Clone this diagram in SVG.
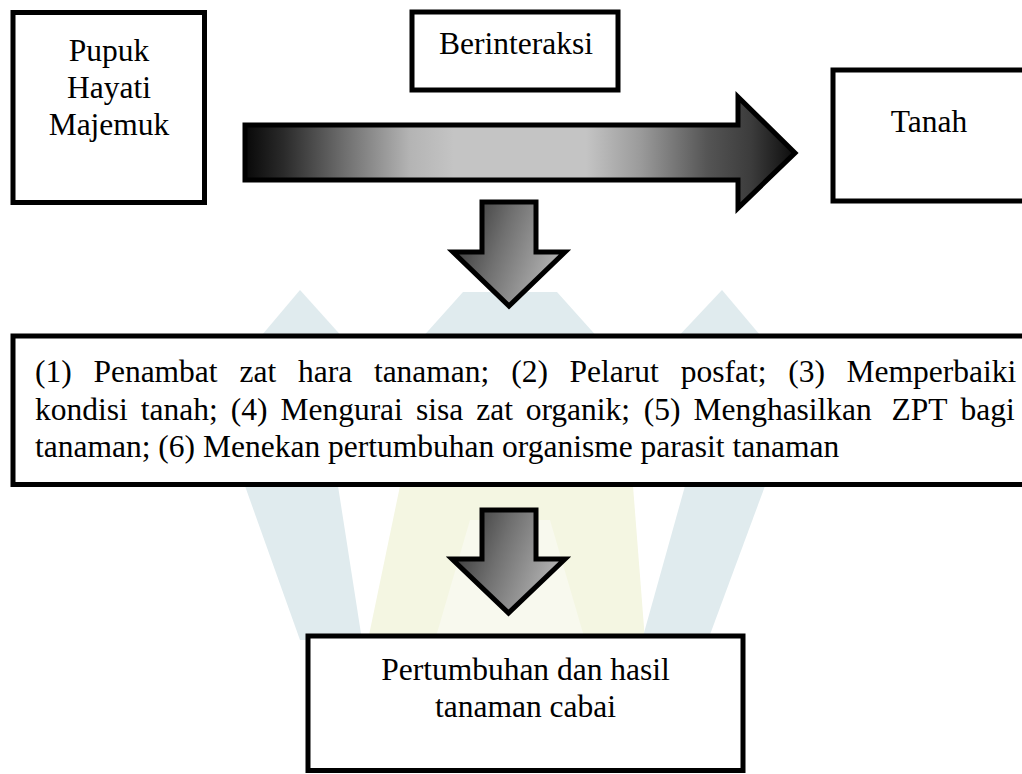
<svg xmlns="http://www.w3.org/2000/svg" width="1022" height="774" viewBox="0 0 1022 774">
  <defs>
    <linearGradient id="gBig" gradientUnits="userSpaceOnUse" x1="245" y1="0" x2="795" y2="0">
      <stop offset="0" stop-color="#080808"/>
      <stop offset="0.07" stop-color="#2a2a2a"/>
      <stop offset="0.18" stop-color="#6e6e6e"/>
      <stop offset="0.3" stop-color="#b4b4b4"/>
      <stop offset="0.38" stop-color="#c4c4c4"/>
      <stop offset="0.62" stop-color="#c4c4c4"/>
      <stop offset="0.72" stop-color="#9a9a9a"/>
      <stop offset="0.84" stop-color="#555555"/>
      <stop offset="0.92" stop-color="#3c3c3c"/>
      <stop offset="1" stop-color="#0c0c0c"/>
    </linearGradient>
    <linearGradient id="gDown" x1="0" y1="0" x2="1" y2="0.35">
      <stop offset="0" stop-color="#262626"/>
      <stop offset="0.5" stop-color="#707070"/>
      <stop offset="1" stop-color="#b0b0b0"/>
    </linearGradient>
    <style>
      .box { fill: #ffffff; stroke: #000000; stroke-width: 5; }
      .arrow { stroke: #000000; stroke-width: 5; stroke-linejoin: miter; }
      .t { font-family: "Liberation Serif", "Times New Roman", serif; font-size: 31.5px; fill: #000000; }
      .c { text-anchor: middle; }
      .wmb { fill: #e0ebee; }
      .wmy { fill: #f4f6e2; }
      .wml { fill: #f8f9ee; }
    </style>
  </defs>

  <rect width="1022" height="774" fill="#ffffff"/>

  <g id="watermark">
    <polygon class="wmb" points="463,292 557,292 600,340 420,340"/>
    <polygon class="wmb" points="262,335 300,290 345,340"/>
    <polygon class="wmb" points="675,340 722,290 760,335"/>
    <polygon class="wmy" points="400,486 633,486 645,640 368,640"/>
    <polygon class="wml" points="470,520 550,520 585,640 435,640"/>
    <polygon class="wmb" points="245,486 338,486 362,640 300,640"/>
    <polygon class="wmb" points="685,486 765,486 708,640 642,640"/>
  </g>

  <g id="connectors">
    <polygon class="arrow" fill="url(#gBig)" points="245,125 738,125 738,97 795,153 738,208 738,180 245,180"/>
    <polygon class="arrow" fill="url(#gDown)" points="482,202 536,202 536,252 565,252 509,306 453,252 482,252"/>
    <polygon class="arrow" fill="url(#gDown)" points="482,510 536,510 536,559 565,559 508.5,613 452,559 482,559"/>
  </g>

  <g id="node-pupuk">
    <rect class="box" x="13" y="12.5" width="191.5" height="190"/>
    <text class="t c" x="109" y="61">Pupuk</text>
    <text class="t c" x="109" y="98">Hayati</text>
    <text class="t c" x="109" y="135">Majemuk</text>
  </g>

  <g id="node-berinteraksi">
    <rect class="box" x="412" y="12" width="206" height="78"/>
    <text class="t c" x="516" y="54">Berinteraksi</text>
  </g>

  <g id="node-tanah">
    <rect class="box" x="833" y="70" width="200" height="131"/>
    <text class="t c" x="929" y="132">Tanah</text>
  </g>

  <g id="node-fungsi">
    <rect class="box" x="13" y="336" width="1020" height="148.5"/>
    <text class="t" y="382"><tspan x="35">(1)</tspan><tspan x="93.4">Penambat</tspan><tspan x="239.6">zat</tspan><tspan x="298">hara</tspan><tspan x="373.9">tanaman;</tspan><tspan x="511.3">(2)</tspan><tspan x="569.6">Pelarut</tspan><tspan x="680.7">posfat;</tspan><tspan x="788.2">(3)</tspan><tspan x="846.6">Memperbaiki</tspan></text>
    <text class="t" y="419.5"><tspan x="35">kondisi</tspan><tspan x="140.8">tanah;</tspan><tspan x="230.8">(4)</tspan><tspan x="280.4">Mengurai</tspan><tspan x="416">sisa</tspan><tspan x="476.2">zat</tspan><tspan x="525.7">organik;</tspan><tspan x="643.8">(5)</tspan><tspan x="693.4">Menghasilkan</tspan><tspan x="891.5">ZPT</tspan><tspan x="960.5">bagi</tspan></text>
    <text class="t" x="35" y="457">tanaman; (6) Menekan pertumbuhan organisme parasit tanaman</text>
  </g>

  <g id="node-hasil">
    <rect class="box" x="308" y="636" width="435" height="134.5"/>
    <text class="t c" x="525.5" y="680">Pertumbuhan dan hasil</text>
    <text class="t c" x="525.5" y="717">tanaman cabai</text>
  </g>
</svg>
